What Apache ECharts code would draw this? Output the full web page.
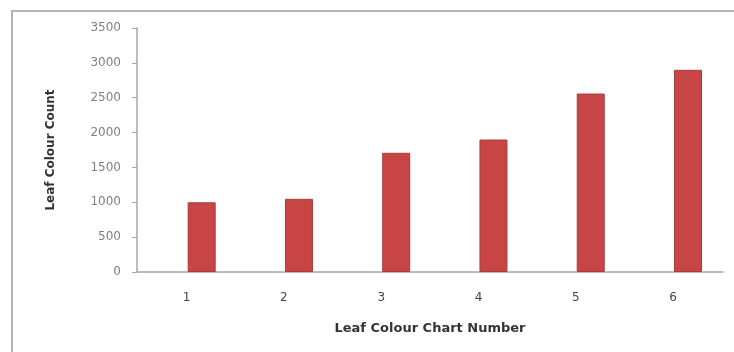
<!DOCTYPE html>
<html>
<head>
<meta charset="utf-8">
<script src="https://cdn.jsdelivr.net/npm/echarts@6/dist/echarts.min.js"></script>
<style>
  html, body { margin: 0; padding: 0; background: #fff; }
  #chart { width: 734px; height: 352px; }
</style>
</head>
<body>
<div id="chart"></div>
<script>
// chart numbers on the x axis and leaf colour counts
const chartNumbers = [1, 2, 3, 4, 5, 6]
const leafCounts = [1000, 1050, 1710, 1900, 2560, 2900]
const yTicks = [0, 500, 1000, 1500, 2000, 2500, 3000, 3500]

const myChart = echarts.init(document.getElementById('chart'))

const option = {
  backgroundColor: '#ffffff',
  animation: false,
  // outer frame like the pasted Excel chart
  graphic: [
    {
      type: 'rect',
      shape: { x: 12, y: 11, width: 900, height: 500 },
      style: { fill: 'none', stroke: '#b4b4b4', lineWidth: 2 },
      silent: true
    }
  ],
  grid: {
    left: 137,
    right: 11,
    top: 28,
    bottom: 80
  },
  xAxis: {
    type: 'value',
    min: 0.335,
    max: 6.36,
    name: 'Leaf Colour Chart Number',
    nameLocation: 'middle',
    nameGap: 50,
    nameTextStyle: {
      fontFamily: 'DejaVu Sans',
      fontWeight: 'bold',
      fontSize: 13,
      color: '#333'
    },
    axisLine: { show: true, lineStyle: { color: '#a6a6a6', width: 1.5 } },
    axisTick: { show: false },
    splitLine: { show: false },
    axisLabel: {
      customValues: chartNumbers,
      margin: 20,
      padding: [0, 30, 0, 0],
      fontFamily: 'DejaVu Sans',
      fontSize: 12,
      color: '#444'
    }
  },
  yAxis: {
    type: 'value',
    min: 0,
    max: yTicks[yTicks.length - 1],
    interval: 500,
    name: 'Leaf Colour Count',
    nameLocation: 'middle',
    nameGap: 80,
    nameTextStyle: {
      fontFamily: 'DejaVu Sans',
      fontWeight: 'bold',
      fontSize: 12,
      color: '#333'
    },
    axisLine: { show: true, lineStyle: { color: '#a6a6a6', width: 1.5 } },
    axisTick: { show: true, length: 5, lineStyle: { color: '#a6a6a6' } },
    splitLine: { show: false },
    axisLabel: {
      margin: 16,
      fontFamily: 'DejaVu Sans',
      fontSize: 12,
      color: '#808080',
      formatter: v => String(v)
    }
  },
  series: [
    {
      type: 'bar',
      barWidth: 28,
      data: chartNumbers.map((n, i) => [n, leafCounts[i]]),
      itemStyle: {
        color: '#c84545',
        borderColor: '#a83c3c',
        borderWidth: 1
      }
    }
  ]
}

myChart.setOption(option)
</script>
</body>
</html>
